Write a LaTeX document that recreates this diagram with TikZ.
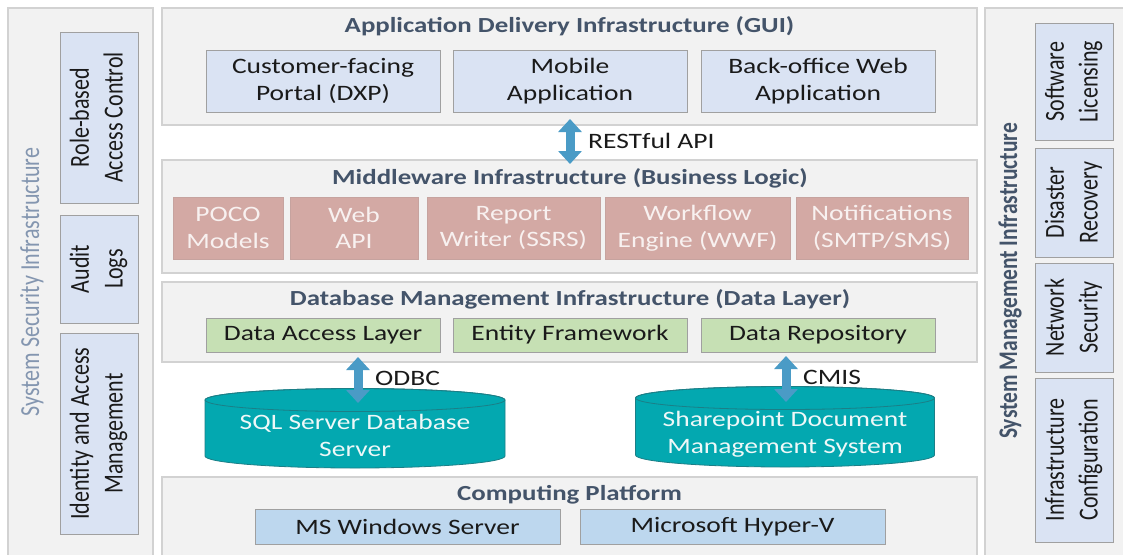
\documentclass[tikz,border=0pt]{standalone}
\usepackage{fontspec}
\setmainfont{Carlito}[FakeStretch=1.25]
\newfontfamily\rotfont{Carlito}
\usetikzlibrary{arrows.meta}
\definecolor{panelfill}{HTML}{F2F2F2}
\definecolor{paneldraw}{HTML}{D2D2D2}
\definecolor{bluefill}{HTML}{DAE3F3}
\definecolor{boxdraw}{HTML}{A0A0A0}
\definecolor{pinkfill}{HTML}{D3A9A4}
\definecolor{pinktext}{HTML}{F8F1F0}
\definecolor{greenfill}{HTML}{C6E0B4}
\definecolor{compfill}{HTML}{BDD7EE}
\definecolor{cylfill}{HTML}{03A8B0}
\definecolor{cyldraw}{HTML}{1B7F87}
\definecolor{cyltext}{HTML}{EEF8F8}
\definecolor{arrowc}{HTML}{4A9BC6}
\definecolor{titlec}{HTML}{44546A}
\definecolor{sectitlec}{HTML}{8496B0}
\definecolor{textc}{HTML}{1A1A1A}
\newcommand\rottext[1]{\scalebox{1}[1.25]{\begin{tabular}{@{}c@{}}#1\end{tabular}}}
\begin{document}
\begin{tikzpicture}[x=1pt,y=1pt,
  panel/.style={draw=paneldraw, fill=panelfill, line width=1.3pt, inner sep=0pt},
  bx/.style={draw=boxdraw, line width=1pt, inner sep=0pt, text=textc, align=center,
    font=\fontsize{22}{26.5}\selectfont},
  bluebox/.style={bx, fill=bluefill},
  pinkbox/.style={bx, fill=pinkfill, draw=pinkfill!85!gray, text=pinktext},
  greenbox/.style={bx, fill=greenfill},
  compbox/.style={bx, fill=compfill},
  rotbox/.style={bx, fill=bluefill, rotate=90, font=\rotfont\fontsize{22}{27}\selectfont},
  ptitle/.style={text=titlec, font=\bfseries\fontsize{21.5}{26}\selectfont, inner sep=0pt},
  cyl/.style={fill=cylfill, draw=cyldraw, line width=0.8pt},
  cyllabel/.style={text=cyltext, align=center, inner sep=0pt, font=\fontsize{22}{26.5}\selectfont},
  lbl/.style={text=textc, anchor=west, inner sep=0pt, font=\fontsize{22}{26}\selectfont},
  apiarrow/.style={draw=arrowc, line width=9pt,
    {Triangle[width=23pt,length=13pt]}-{Triangle[width=23pt,length=13pt]}}
]
\useasboundingbox (0,0) rectangle (1123,-554);
\clip (0,0) rectangle (1123,-554);
\fill[white] (0,0) rectangle (1123,-554);

% side panels
\node[panel, minimum width=145, minimum height=550] (secpanel) at (80.5,-283) {};
\node[panel, minimum width=145, minimum height=550] (mgmtpanel) at (1057.5,-283) {};
\node[rotate=90, inner sep=0pt, text=sectitlec, font=\rotfont\fontsize{22}{26}\selectfont]
  (sectitle) at (32,-282) {\scalebox{1}[1.25]{System Security Infrastructure}};
\node[rotate=90, inner sep=0pt, text=titlec, font=\rotfont\bfseries\fontsize{21.5}{26}\selectfont]
  (mgmttitle) at (1010,-281) {\scalebox{1}[1.25]{System Management Infrastructure}};

\node[rotbox, minimum width=171, minimum height=78] (rbac) at (99,-117.5) {\rottext{Role-based\\Access Control}};
\node[rotbox, minimum width=108, minimum height=78] (audit) at (99,-269) {\rottext{Audit\\Logs}};
\node[rotbox, minimum width=201, minimum height=78] (iam) at (99,-433.5) {\rottext{Identity and Access\\Management}};

\node[rotbox, minimum width=117, minimum height=78] (lic) at (1074,-81.5) {\rottext{Software\\Licensing}};
\node[rotbox, minimum width=109, minimum height=78] (dr) at (1074,-202.5) {\rottext{Disaster\\Recovery}};
\node[rotbox, minimum width=109, minimum height=78] (netsec) at (1074,-317.5) {\rottext{Network\\Security}};
\node[rotbox, minimum width=164, minimum height=78] (infcfg) at (1074,-460) {\rottext{Infrastructure\\Configuration}};

% application delivery
\node[panel, minimum width=815, minimum height=117] (app) at (569.5,-66.5) {};
\node[ptitle] (apptitle) at (569.5,-26) {Application Delivery Infrastructure (GUI)};
\node[bluebox, minimum width=234, minimum height=62] (dxp) at (323,-81) {Customer-facing\\Portal (DXP)};
\node[bluebox, minimum width=234, minimum height=62] (mobile) at (570,-81) {Mobile\\Application};
\node[bluebox, minimum width=234, minimum height=62] (backoffice) at (818,-81) {Back-office Web\\Application};

% middleware
\node[panel, minimum width=815, minimum height=113] (mid) at (569.5,-216.5) {};
\node[ptitle] (midtitle) at (570,-178) {Middleware Infrastructure (Business Logic)};
\node[pinkbox, minimum width=110, minimum height=62] (poco) at (228,-228) {POCO\\Models};
\node[pinkbox, minimum width=128, minimum height=62] (webapi) at (354,-228) {Web\\API};
\node[pinkbox, minimum width=173, minimum height=62] (ssrs) at (513.5,-228) {Report\\Writer (SSRS)};
\node[pinkbox, minimum width=185, minimum height=62] (wwf) at (697.5,-228) {Workflow\\Engine (WWF)};
\node[pinkbox, minimum width=172, minimum height=62] (notif) at (882,-228) {Notifications\\(SMTP/SMS)};

% database
\node[panel, minimum width=815, minimum height=80] (db) at (569.5,-322) {};
\node[ptitle] (dbtitle) at (570,-299) {Database Management Infrastructure (Data Layer)};
\node[greenbox, minimum width=234, minimum height=34] (dal) at (323,-335) {Data Access Layer};
\node[greenbox, minimum width=234, minimum height=34] (ef) at (570,-335) {Entity Framework};
\node[greenbox, minimum width=234, minimum height=34] (repo) at (818,-335) {Data Repository};

% computing platform
\node[panel, minimum width=815, minimum height=82] (comp) at (569.5,-518) {};
\node[ptitle] (comptitle) at (569.5,-495) {Computing Platform};
\node[compbox, minimum width=305, minimum height=35] (win) at (407.5,-526.5) {MS Windows Server};
\node[compbox, minimum width=305, minimum height=35] (hyperv) at (732.5,-526.5) {Microsoft Hyper-V};

% cylinders
\path[cyl] (205,-400) -- (205,-456) arc[start angle=180, end angle=360, x radius=150, y radius=12]
  -- (505,-400) arc[start angle=0, end angle=180, x radius=150, y radius=11.5] -- cycle;
\draw[cyldraw, line width=0.8pt] (355,-400) ellipse [x radius=150, y radius=11.5];
\node[cyllabel] (sql) at (355,-435.5) {SQL Server Database\\Server};

\path[cyl] (635.5,-398) -- (635.5,-455) arc[start angle=180, end angle=360, x radius=149.5, y radius=12]
  -- (934.5,-398) arc[start angle=0, end angle=180, x radius=149.5, y radius=11.5] -- cycle;
\draw[cyldraw, line width=0.8pt] (785,-398) ellipse [x radius=149.5, y radius=11.5];
\node[cyllabel] (sp) at (785,-434) {Sharepoint Document\\Management System};

% arrows
\coordinate (restA) at (570,-119);
\coordinate (restB) at (570,-164);
\coordinate (odbcA) at (358,-357);
\coordinate (odbcB) at (358,-403);
\coordinate (cmisA) at (786,-356);
\coordinate (cmisB) at (786,-402);
\draw[apiarrow] (restA) -- (restB);
\draw[apiarrow] (odbcA) -- (odbcB);
\draw[apiarrow] (cmisA) -- (cmisB);
\node[lbl] (restlbl) at (588,-141) {RESTful API};
\node[lbl] (odbclbl) at (375,-378) {ODBC};
\node[lbl] (cmislbl) at (803,-377) {CMIS};
\end{tikzpicture}
\end{document}
